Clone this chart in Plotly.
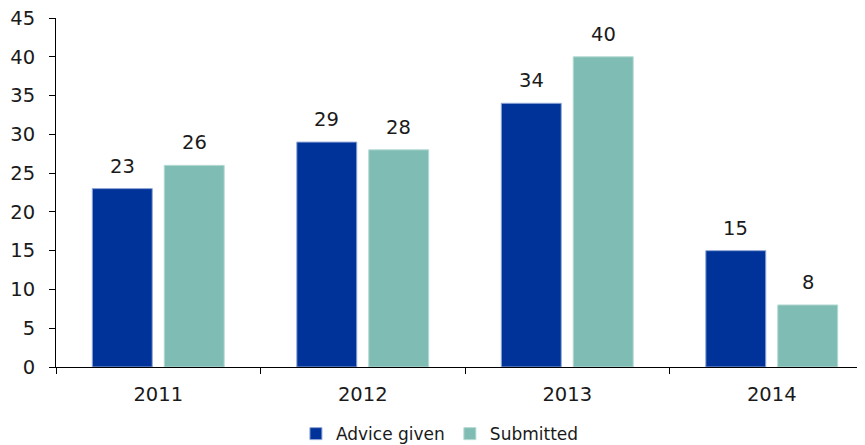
import plotly.graph_objects as go

years = ["2011", "2012", "2013", "2014"]
advice_given = [23, 29, 34, 15]
submitted = [26, 28, 40, 8]
y_ticks = [0, 5, 10, 15, 20, 25, 30, 35, 40, 45]

BLUE = "#003399"
TEAL = "#7fbcb3"
FONT = "DejaVu Sans"
TXT = "#1a1a1a"
NUM_SIZE = 19.5

fig = go.Figure()
fig.add_trace(go.Bar(x=years, y=advice_given, name="Advice given",
                     marker=dict(color=BLUE, line=dict(color="#8fa6d6", width=1))))
fig.add_trace(go.Bar(x=years, y=submitted, name="Submitted",
                     marker=dict(color=TEAL, line=dict(color="#b5dad4", width=1))))

ann = []
for i, (a, s) in enumerate(zip(advice_given, submitted)):
    for off, v in ((-0.176, a), (0.176, s)):
        ann.append(dict(x=i + off, y=v, xref="x", yref="y", text=str(v),
                        showarrow=False, yanchor="bottom", yshift=9,
                        font=dict(family=FONT, size=NUM_SIZE, color=TXT)))

fig.update_layout(
    width=857, height=437,
    margin=dict(l=48, r=0, t=10, b=78, autoexpand=False),
    paper_bgcolor="white", plot_bgcolor="white",
    barmode="group", bargap=0.2965, bargroupgap=0.1667,
    font=dict(family=FONT, size=NUM_SIZE, color=TXT),
    annotations=ann,
    legend=dict(orientation="h", xref="container", yref="container",
                x=0.504, xanchor="center", y=0.025, yanchor="middle",
                font=dict(family=FONT, size=17, color=TXT),
                itemwidth=30, traceorder="normal", tracegroupgap=0),
    xaxis=dict(range=[-0.5, 3.456], showline=True, linecolor="black", linewidth=1,
               ticks="outside", tickson="boundaries", ticklen=6, tickcolor="black",
               ticklabelstandoff=10, showgrid=False, automargin=False),
    yaxis=dict(range=[0, 45], tickvals=y_ticks, showline=True, linecolor="black",
               linewidth=1, ticks="outside", ticklen=6, tickcolor="black",
               showgrid=False, zeroline=False, ticklabelstandoff=10, automargin=False,
               ticklabeloverflow="allow"),
)
fig.write_html("out.html")
